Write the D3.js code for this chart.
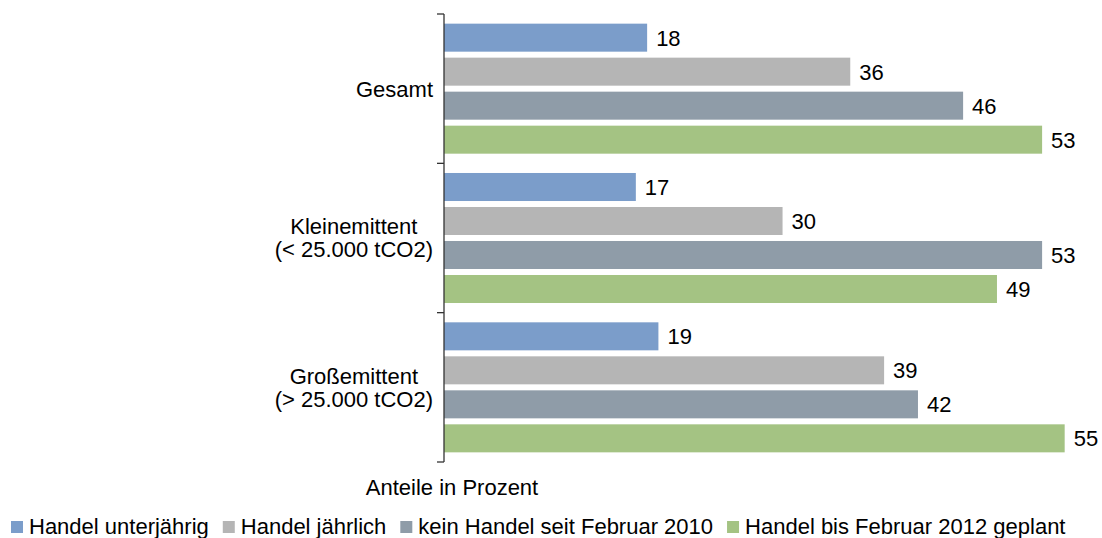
<!DOCTYPE html>
<html>
<head>
<meta charset="utf-8">
<script src="https://cdn.jsdelivr.net/npm/d3@7"></script>
<style>
  body { margin: 0; background: #fff; }
  text { font-family: "Liberation Sans", Arial, sans-serif; fill: #000; }
</style>
</head>
<body>
<svg id="chart" width="1102" height="538"></svg>
<script>
const categories = [['Gesamt'], ['Kleinemittent', '(< 25.000 tCO2)'], ['Großemittent', '(> 25.000 tCO2)']];
const seriesNames = ['Handel unterjährig', 'Handel jährlich', 'kein Handel seit Februar 2010', 'Handel bis Februar 2012 geplant'];
const unterjaehrig = [18, 17, 19];
const jaehrlich = [36, 30, 39];
const keinHandel = [46, 53, 42];
const geplant = [53, 49, 55];
const seriesColors = ['#7b9dca', '#b5b5b5', '#8f9ca8', '#a4c383'];
const axisTitle = 'Anteile in Prozent';

const svg = d3.select('#chart');
const fontSize = 22;

const series = [unterjaehrig, jaehrlich, keinHandel, geplant];
const catKeys = categories.map(c => c.join(' '));

const x = d3.scaleLinear()
  .domain([0, 60])
  .range([444, 444 + 60 * 11.285]);

const y = d3.scaleBand()
  .domain(catKeys)
  .range([14, 462])
  .padding(0);

const yInner = d3.scaleBand()
  .domain(d3.range(series.length))
  .range([0, y.bandwidth()])
  .paddingInner(0.176)
  .paddingOuter(0.284);

// bars + value labels
const groups = svg.append('g').selectAll('g')
  .data(catKeys)
  .enter().append('g')
  .attr('transform', d => `translate(0,${y(d)})`);

groups.selectAll('rect')
  .data((d, i) => series.map((s, j) => ({ j, v: s[i] })))
  .enter().append('rect')
  .attr('x', x(0))
  .attr('y', d => yInner(d.j))
  .attr('width', d => x(d.v) - x(0))
  .attr('height', yInner.bandwidth())
  .attr('fill', d => seriesColors[d.j]);

groups.selectAll('text')
  .data((d, i) => series.map((s, j) => ({ j, v: s[i] })))
  .enter().append('text')
  .attr('x', d => x(d.v) + 9)
  .attr('y', d => yInner(d.j) + yInner.bandwidth() / 2)
  .attr('dy', '0.36em')
  .attr('font-size', fontSize)
  .text(d => d.v);

// axis: line with ticks at category boundaries
const axis = svg.append('g').attr('stroke', '#333').attr('stroke-width', 1.3);
axis.append('line')
  .attr('x1', x(0)).attr('x2', x(0))
  .attr('y1', y.range()[0]).attr('y2', y.range()[1]);
axis.selectAll('.tick')
  .data(catKeys.map(k => y(k)).concat([y.range()[1]]))
  .enter().append('line')
  .attr('x1', x(0) - 7).attr('x2', x(0))
  .attr('y1', d => d).attr('y2', d => d);

// category labels, lines centred, block right-aligned
const labelRight = 433;
const lineH = 23;
categories.forEach((lines, i) => {
  const g = svg.append('g');
  const cy = y(catKeys[i]) + y.bandwidth() / 2;
  const texts = lines.map((l, k) => g.append('text')
    .attr('font-size', fontSize)
    .attr('text-anchor', 'middle')
    .attr('y', cy + (k - (lines.length - 1) / 2) * lineH)
    .attr('dy', '0.36em')
    .text(l));
  const w = d3.max(texts, t => t.node().getComputedTextLength());
  texts.forEach(t => t.attr('x', labelRight - w / 2));
});

svg.append('text')
  .attr('x', 452)
  .attr('y', 495)
  .attr('text-anchor', 'middle')
  .attr('font-size', fontSize)
  .text(axisTitle);

// legend
const legend = svg.append('g').attr('transform', 'translate(11,0)');
let lx = 0;
seriesNames.forEach((name, i) => {
  legend.append('rect')
    .attr('x', lx).attr('y', 521)
    .attr('width', 12).attr('height', 12)
    .attr('fill', seriesColors[i]);
  const t = legend.append('text')
    .attr('x', lx + 18)
    .attr('y', 534)
    .attr('font-size', fontSize)
    .text(name);
  lx += 18 + t.node().getComputedTextLength() + 14;
});
</script>
</body>
</html>
